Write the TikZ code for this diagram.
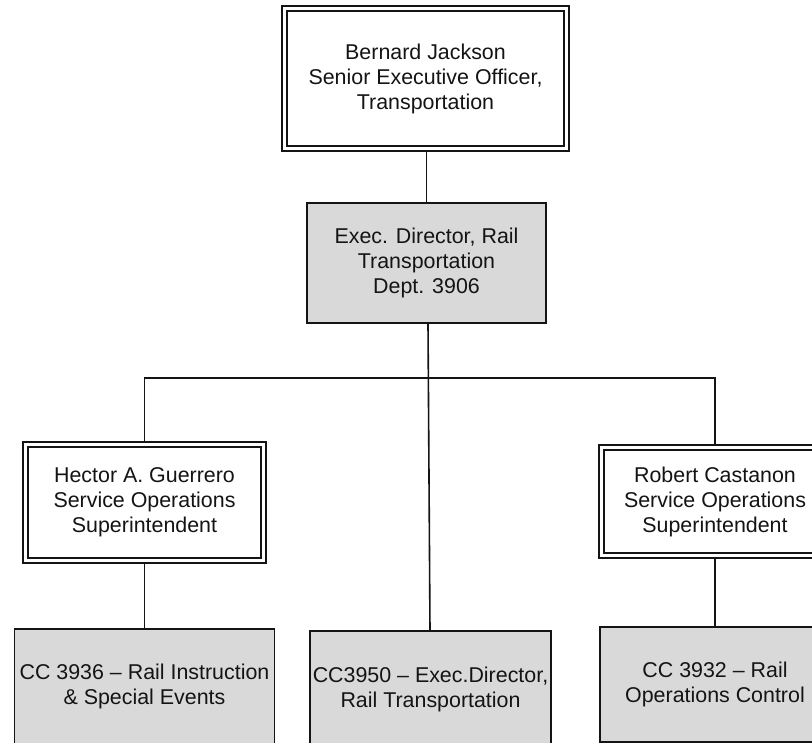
\documentclass[tikz,border=0pt]{standalone}
\usepackage{fontspec}
\setmainfont{Liberation Sans}
\usetikzlibrary{backgrounds}
\definecolor{boxgray}{RGB}{217,217,217}
\definecolor{inkc}{RGB}{20,20,20}
\tikzset{
  base/.style={rectangle, inner sep=0pt, align=center, text=inkc,
    font=\fontsize{21.4}{25}\selectfont},
  dblbox/.style={base, draw=inkc, line width=1.1pt, double=white,
    double distance=3.9pt, fill=white},
  graybox/.style={base, draw=inkc, line width=1.4pt, fill=boxgray},
  conn/.style={draw=inkc, line width=1.6pt}
}
\begin{document}
\begin{tikzpicture}[x=1pt, y=-1pt]
\clip (0,0) rectangle (812,743);
\useasboundingbox (0,0) rectangle (812,743);

\node[dblbox, minimum width=282pt, minimum height=140pt] (top) at (425.5,78.5)
  {Bernard Jackson\\Senior Executive Officer,\\Transportation};
\node[graybox, minimum width=239pt, minimum height=120pt] (exec) at (426.5,263)
  {Exec. Director, Rail\\Transportation\\Dept. 3906};
\node[dblbox, minimum width=238pt, minimum height=116pt] (hector) at (144.5,502.5)
  {Hector A. Guerrero\\Service Operations\\Superintendent};
\node[dblbox, minimum width=227pt, minimum height=108pt] (robert) at (715,501.5)
  {Robert Castanon\\Service Operations\\Superintendent};
\node[graybox, minimum width=260pt, minimum height=115pt] (bl) at (144.5,686.5)
  {CC 3936 – Rail Instruction\\\& Special Events};
\node[graybox, minimum width=241pt, minimum height=116pt] (mid) at (430.5,689)
  {CC3950 – Exec.Director,\\Rail Transportation};
\node[graybox, minimum width=230pt, minimum height=115pt] (br) at (715,684.5)
  {CC 3932 – Rail\\Operations Control};

\coordinate (bus) at (426.5,378);

\begin{scope}[on background layer]
\fill[white] (0,0) rectangle (812,743);
\draw[conn] (top.south -| exec.north) -- (exec.north);
\draw[conn] ([xshift=1.5pt]exec.south) -- ([xshift=-0.5pt]mid.north);
\draw[conn] (hector.north) |- (bus) -| (robert.north);
\draw[conn] (hector.south) -- (bl.north);
\draw[conn] (robert.south) -- (br.north);
\end{scope}
\end{tikzpicture}
\end{document}
